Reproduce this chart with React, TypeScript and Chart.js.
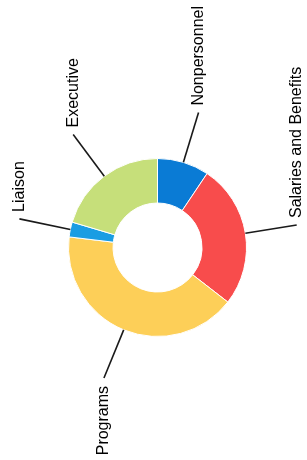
import React, { useEffect, useRef } from 'react';
import { Chart, registerables } from 'chart.js';

Chart.register(...registerables);

const categories = ['Nonpersonnel', 'Salaries and Benefits', 'Programs', 'Liaison', 'Executive'];
const values = [9.4, 26.1, 41.4, 2.7, 20.4];
const colors = ['#0a7bd5', '#f84c4c', '#fdcf58', '#1a9de3', '#c6df7a'];

const leaderPlugin = {
  id: 'rotatedLeaders',
  afterDatasetsDraw(chart: any) {
    const ctx = chart.ctx;
    const meta = chart.getDatasetMeta(0);
    ctx.save();
    meta.data.forEach((arc: any, i: number) => {
      const { x, y, startAngle, endAngle, outerRadius } = arc.getProps(
        ['x', 'y', 'startAngle', 'endAngle', 'outerRadius'],
        true
      );
      const mid = (startAngle + endAngle) / 2;
      const c = Math.cos(mid);
      const s = Math.sin(mid);
      const r0 = outerRadius;
      const r1 = outerRadius + 52;
      ctx.beginPath();
      ctx.strokeStyle = '#1a1a1a';
      ctx.lineWidth = 1.6;
      ctx.moveTo(x + c * r0, y + s * r0);
      ctx.lineTo(x + c * r1, y + s * r1);
      ctx.stroke();

      const ex = x + c * r1;
      const ey = y + s * r1;
      ctx.save();
      ctx.translate(ex, ey);
      ctx.rotate(-Math.PI / 2);
      const leftSide = s < 0;
      ctx.font = '16px "Liberation Sans", Arial, sans-serif';
      ctx.fillStyle = '#000';
      ctx.textBaseline = 'middle';
      ctx.textAlign = leftSide ? 'left' : 'right';
      ctx.fillText(categories[i], leftSide ? 7 : -8, 0);
      ctx.restore();
    });
    ctx.restore();
  },
};

export default function App() {
  const ref = useRef<HTMLCanvasElement | null>(null);

  useEffect(() => {
    if (!ref.current) return;
    const chart = new Chart(ref.current, {
      type: 'doughnut',
      data: {
        labels: categories,
        datasets: [
          {
            data: values,
            backgroundColor: colors,
            borderColor: '#ffffff',
            borderWidth: 1,
          },
        ],
      },
      options: {
        responsive: false,
        maintainAspectRatio: false,
        animation: false,
        cutout: '50%',
        layout: {
          padding: { left: 68, right: 60, top: 158, bottom: 123 },
        },
        plugins: {
          legend: { display: false },
          tooltip: { enabled: false },
        },
      },
      plugins: [leaderPlugin],
    });
    return () => chart.destroy();
  }, []);

  return (
    <div style={{ position: 'fixed', left: 0, top: 0, width: 307, height: 460, background: '#fff' }}>
      <canvas ref={ref} width={307} height={460} style={{ width: 307, height: 460 }} />
    </div>
  );
}
